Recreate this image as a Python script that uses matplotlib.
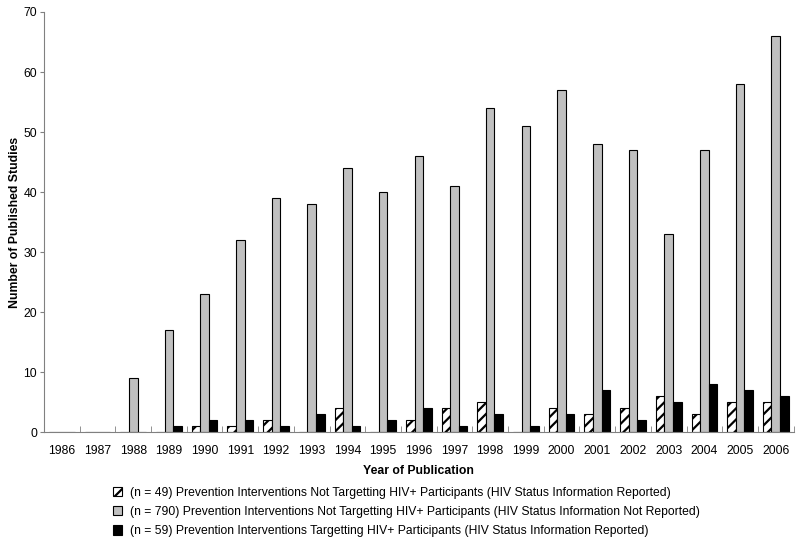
import numpy as np
import matplotlib.pyplot as plt

plt.rcParams['font.family'] = ['Liberation Sans', 'DejaVu Sans']
plt.rcParams['hatch.linewidth'] = 1.6

years = [str(y) for y in range(1986, 2007)]
not_target_reported = [0, 0, 0, 0, 1, 1, 2, 0, 4, 0, 2, 4, 5, 0, 4, 3, 4, 6, 3, 5, 5]
not_target_not_reported = [0, 0, 9, 17, 23, 32, 39, 38, 44, 40, 46, 41, 54, 51, 57,
                           48, 47, 33, 47, 58, 66]
target_reported = [0, 0, 0, 1, 2, 2, 1, 3, 1, 2, 4, 1, 3, 1, 3, 7, 2, 5, 8, 7, 6]

labels = [
    '(n = 49) Prevention Interventions Not Targetting HIV+ Participants (HIV Status Information Reported)',
    '(n = 790) Prevention Interventions Not Targetting HIV+ Participants (HIV Status Information Not Reported)',
    '(n = 59) Prevention Interventions Targetting HIV+ Participants (HIV Status Information Reported)',
]

fig = plt.figure(figsize=(8, 5.45), dpi=100)
ax = fig.add_axes([0.055, 0.207, 0.937, 0.771])

x = np.arange(len(years))
w = 0.24
b1 = ax.bar(x - w, not_target_reported, w, color='white', edgecolor='black',
            hatch='///', linewidth=0.8, label=labels[0])
b2 = ax.bar(x, not_target_not_reported, w, color='#c0c0c0', edgecolor='black',
            linewidth=0.8, label=labels[1])
b3 = ax.bar(x + w, target_reported, w, color='black', edgecolor='black',
            linewidth=0.8, label=labels[2])

ax.set_xlim(-0.5, len(years) - 0.5)
ax.set_ylim(0, 70)
ax.set_yticks(range(0, 71, 10))
ax.set_xticks(x)
ax.set_xticklabels(years, fontsize=8.8)
ax.set_xticks(np.arange(-0.5, len(years), 1), minor=True)
ax.tick_params(axis='x', which='major', length=0, pad=9)
ax.tick_params(axis='x', which='minor', length=4, direction='in', color='#808080')
ax.tick_params(axis='y', labelsize=8.8, length=3, pad=2, color='#808080')

for s in ['top', 'right']:
    ax.spines[s].set_visible(False)
for s in ['left', 'bottom']:
    ax.spines[s].set_color('#808080')

ax.set_xlabel('Year of Publication', fontsize=8.8, fontweight='bold', labelpad=6)
ax.set_ylabel('Number of Published Studies', fontsize=8.8, fontweight='bold', labelpad=2)

fig.legend(handles=[b1, b2, b3], loc='upper left', bbox_to_anchor=(0.141, 0.107),
           frameon=False, fontsize=8.7, handlelength=0.8, handleheight=0.8,
           handletextpad=0.6, labelspacing=0.6, borderpad=0, borderaxespad=0)

fig.savefig('out.png', dpi=100)
